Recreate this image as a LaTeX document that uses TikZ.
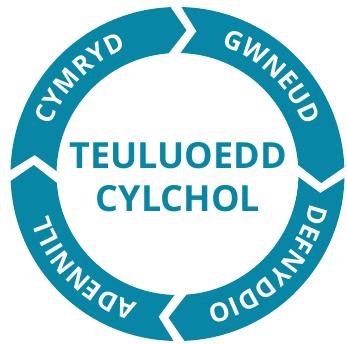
\documentclass[tikz,border=0pt]{standalone}
\usepackage{fontspec}
\setmainfont{Open Sans}
\definecolor{cycteal}{RGB}{8,134,165}
\newcommand\cycseg[2]{%
  \fill[segfill] ({#1-1.37}:167pt) arc[start angle={#1-1.37}, end angle={#2+2.40}, radius=167pt]
    -- ({#2-3.58}:144pt) -- ({#2+4.26}:121pt)
    arc[start angle={#2+4.26}, end angle={#1-1.42}, radius=121pt]
    -- ({#1-7.56}:144pt) -- cycle;}
\def\lblsize{26}
\def\lblrad{135.5}
\def\track{0}
% #1 name, #2 centre angle, #3 list letter/width(em)
\newcommand\ringword[3]{%
  \gdef\totw{0}%
  \foreach \ch/\w in {#3}{%
    \pgfmathsetmacro\tmp{\totw+\w*\lblsize+\track}%
    \xdef\totw{\tmp}}%
  \pgfmathsetmacro\tmp{#2+(\totw-\track)/2/\lblrad*180/pi}%
  \xdef\curang{\tmp}%
  \foreach \ch/\w [count=\i] in {#3}{%
    \pgfmathsetmacro\midang{\curang-(\w*\lblsize/2)/\lblrad*180/pi}%
    \node[ringletter, rotate=\midang-90] (#1-\i) at (\midang:\lblrad pt) {\ch};
    \pgfmathsetmacro\tmp{\curang-(\w*\lblsize+\track)/\lblrad*180/pi}%
    \xdef\curang{\tmp}}%
}
\tikzset{
  segfill/.style={fill=cycteal},
  ringletter/.style={text=white, font=\fontsize{26}{30}\selectfont\bfseries, anchor=base, inner sep=0pt},
  centertext/.style={text=cycteal, font=\fontsize{36}{40}\selectfont\bfseries, anchor=base, inner sep=0pt}
}
\begin{document}
\begin{tikzpicture}
\fill[white] (-177.5pt,-170pt) rectangle (169.5pt,174pt);
\useasboundingbox (-177.5pt,-170pt) rectangle (169.5pt,174pt);
% segments: start gap angle, end gap angle (clockwise)
\cycseg{180}{90}
\cycseg{90}{0}
\cycseg{0}{-90}
\cycseg{-90}{-180}
% labels
\ringword{cym}{135.6}{C/0.63,Y/0.645,M/0.95,R/0.675,Y/0.645,D/0.745}
\ringword{gwn}{45.9}{G/0.73,W/0.99,N/0.80,E/0.54,U/0.765,D/0.745}
\ringword{def}{-45.1}{D/0.745,E/0.54,F/0.53,N/0.80,Y/0.645,D/0.745,D/0.745,I/0.36,O/0.795}
\ringword{ade}{-134.7}{A/0.72,D/0.745,E/0.54,N/0.80,N/0.80,I/0.36,L/0.54,L/0.54}
% centre
\node[centertext] (t1) at (0.5pt,5.7pt) {TEULUOEDD};
\node[centertext] (t2) at (0.5pt,-37.7pt) {CYLCHOL};
\end{tikzpicture}
\end{document}
